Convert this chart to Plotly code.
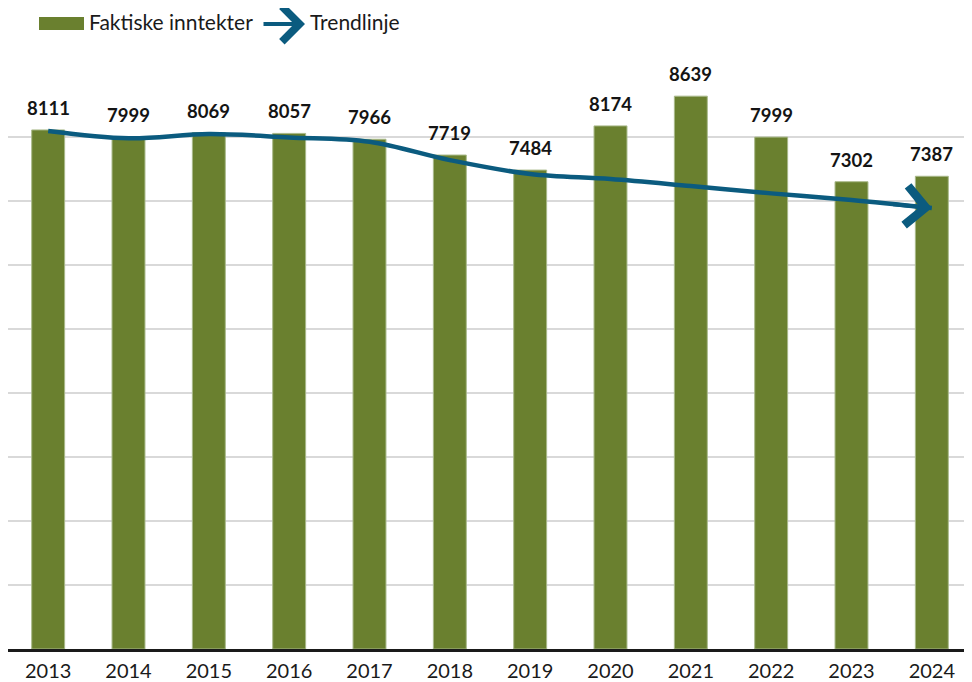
import plotly.graph_objects as go

years = ["2013", "2014", "2015", "2016", "2017", "2018", "2019", "2020", "2021", "2022", "2023", "2024"]
actual = [8111, 7999, 8069, 8057, 7966, 7719, 7484, 8174, 8639, 7999, 7302, 7387]
trend = [8094, 7980, 8047, 7995, 7927, 7640, 7422, 7344, 7234, 7120, 7016, 6890]

BAR = "#6a802f"
LINE = "#0b5b7f"
FONT = "Lato"

idx = list(range(len(years)))

fig = go.Figure()
fig.add_trace(go.Bar(x=idx, y=actual, width=0.41, marker=dict(color=BAR, line=dict(color="#a9b98a", width=1)),
                     showlegend=False, hoverinfo="skip"))
fig.add_trace(go.Scatter(x=idx, y=trend, mode="lines", line=dict(color=LINE, width=4.5, shape="spline", smoothing=1),
                         showlegend=False, hoverinfo="skip", cliponaxis=False))

annotations = []
for i, v in zip(idx, actual):
    annotations.append(dict(x=i, y=v, xref="x", yref="y", text=f"<b>{v}</b>", showarrow=False,
                            yanchor="bottom", yshift=9, font=dict(family=FONT, size=18.5, color="#141414")))
# arrow head at end of trend line
annotations.append(dict(x=idx[-1], y=trend[-1], xref="x", yref="y",
                        ax=(idx[-1] + idx[-2]) / 2, ay=(trend[-1] + trend[-2]) / 2, axref="x", ayref="y",
                        text="", showarrow=True, arrowhead=4, arrowsize=1.9, arrowwidth=4, arrowcolor=LINE, standoff=0))
# custom legend
annotations.append(dict(x=(87 - 8) / 964, y=(649 - 21) / 576, xref="paper", yref="paper", text="Faktiske inntekter",
                        showarrow=False, xanchor="left", yanchor="middle", font=dict(family=FONT, size=21, color="#1a1a1a")))
annotations.append(dict(x=(308 - 8) / 964, y=(649 - 21) / 576, xref="paper", yref="paper", text="Trendlinje",
                        showarrow=False, xanchor="left", yanchor="middle", font=dict(family=FONT, size=21, color="#1a1a1a")))
annotations.append(dict(x=(305 - 8) / 964, y=(649 - 24) / 576, xref="paper", yref="paper", ax=-43, ay=0,
                        text="", showarrow=True, arrowhead=4, arrowsize=1.7, arrowwidth=4, arrowcolor=LINE, standoff=0))

shapes = [dict(type="rect", xref="paper", yref="paper", x0=(39 - 8) / 964, x1=(84 - 8) / 964,
               y0=(649 - 30) / 576, y1=(649 - 17) / 576, fillcolor=BAR, line=dict(width=0))]

fig.update_layout(
    width=964, height=674,
    margin=dict(l=0, r=0, t=65, b=33),
    paper_bgcolor="white", plot_bgcolor="white",
    xaxis=dict(tickmode="array", tickvals=idx, ticktext=years, range=[-0.5, len(years) - 0.5],
               showgrid=False, showline=True, linecolor="#1a1a1a", linewidth=3, ticks="",
               ticklabelstandoff=2, automargin=False,
               tickfont=dict(family=FONT, size=20, color="#1a1a1a"), zeroline=False),
    yaxis=dict(range=[0, 9001], dtick=1000, showgrid=True, gridcolor="#d9d9d9", gridwidth=2,
               showticklabels=False, zeroline=False, showline=False),
    annotations=annotations, shapes=shapes,
)

fig.write_html("out.html")
